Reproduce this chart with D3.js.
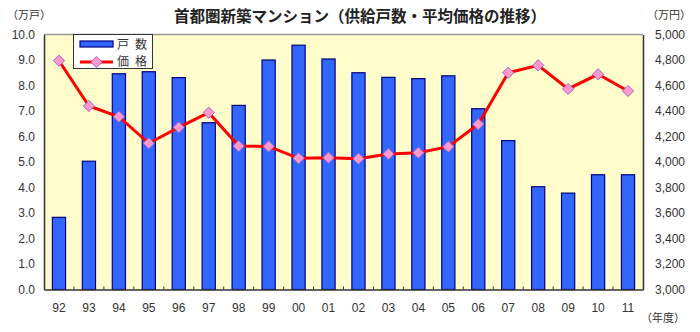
<!DOCTYPE html>
<html><head><meta charset="utf-8">
<script src="https://cdn.jsdelivr.net/npm/d3@7"></script>
<style>body{margin:0;background:#fff}svg{display:block}text{font-family:"Noto Sans CJK JP","Noto Sans",sans-serif}</style>
</head><body><svg id="c" width="700" height="332"></svg>
<script>
const years = ["92","93","94","95","96","97","98","99","00","01","02","03","04","05","06","07","08","09","10","11"];
// 供給戸数（万戸）
const units = [2.83,5.03,8.46,8.54,8.31,6.54,7.22,9.00,9.58,9.04,8.50,8.32,8.27,8.38,7.09,5.84,4.03,3.78,4.50,4.50];
// 平均価格（万円）
const prices = [4794,4439,4355,4147,4272,4387,4125,4122,4029,4034,4026,4063,4073,4120,4296,4700,4758,4573,4688,4557];
const leftTicks = [0,1,2,3,4,5,6,7,8,9,10];
const rightTicks = [3000,3200,3400,3600,3800,4000,4200,4400,4600,4800,5000];

const svg = d3.select("#c");
const L = 44, R = 643, T = 34.5, B = 289.5;

const x = d3.scaleBand().domain(years).range([L, R]).paddingInner(0.56).paddingOuter(0.28);
const xc = d3.scaleBand().domain(years).range([L, R]);
const yL = d3.scaleLinear().domain([0, 10]).range([B, T]);
const yR = d3.scaleLinear().domain([3000, 5000]).range([B, T]);

// plot background
svg.append("rect").attr("x", L).attr("y", T).attr("width", R - L).attr("height", B - T).attr("fill", "#FFFDCC");
svg.append("line").attr("x1", L).attr("x2", R).attr("y1", T).attr("y2", T).attr("stroke", "#999").attr("stroke-width", 1.5);

// bars
svg.append("g").selectAll("rect").data(units).join("rect")
  .attr("x", (d, i) => x(years[i]))
  .attr("y", d => yL(d))
  .attr("width", x.bandwidth())
  .attr("height", d => B - yL(d))
  .attr("fill", "#3366FF").attr("stroke", "#000080").attr("stroke-width", 1.2);

// axes
const gl = svg.append("g").attr("transform", `translate(${L},0)`)
  .call(d3.axisLeft(yL).tickValues(leftTicks).tickFormat(d3.format(".1f")).tickSize(0).tickPadding(9));
const gr = svg.append("g").attr("transform", `translate(${R},0)`)
  .call(d3.axisRight(yR).tickValues(rightTicks).tickFormat(d3.format(",")).tickSize(0).tickPadding(12));
const gb = svg.append("g").attr("transform", `translate(0,${B})`)
  .call(d3.axisBottom(xc).tickSize(0).tickPadding(14));
[gl, gr, gb].forEach(g => {
  g.select(".domain").attr("stroke", "#333").attr("stroke-width", 1.5);
  g.selectAll("text").attr("fill", "#333").attr("font-size", 12).style("font-family", "'Liberation Sans',Arial,sans-serif");
});

// category separators on the baseline
svg.append("g").selectAll("line").data(years.slice(1)).join("line")
  .attr("x1", d => xc(d)).attr("x2", d => xc(d))
  .attr("y1", B).attr("y2", B - 3).attr("stroke", "#333");

// price line
const line = d3.line().x((d, i) => xc(years[i]) + xc.bandwidth() / 2).y(d => yR(d));
svg.append("path").datum(prices).attr("d", line).attr("fill", "none").attr("stroke", "#FF0000").attr("stroke-width", 3);
const diamond = d3.symbol().type(d3.symbolDiamond2).size(80);
svg.append("g").selectAll("path").data(prices).join("path")
  .attr("transform", (d, i) => `translate(${xc(years[i]) + xc.bandwidth() / 2},${yR(d)})`)
  .attr("d", diamond).attr("fill", "#FF99CC").attr("stroke", "#9966CC").attr("stroke-width", 1);

// legend
const lg = svg.append("g");
lg.append("rect").attr("x", 73.5).attr("y", 34.5).attr("width", 79).attr("height", 34).attr("fill", "#fff").attr("stroke", "#333");
lg.append("rect").attr("x", 80).attr("y", 41).attr("width", 33).attr("height", 6).attr("fill", "#3366FF").attr("stroke", "#000080").attr("stroke-width", 1.2);
lg.append("text").attr("x", 117).attr("y", 48.5).attr("font-size", 12).attr("letter-spacing", 6).attr("fill", "#333").text("戸数");
lg.append("line").attr("x1", 80).attr("x2", 113).attr("y1", 62).attr("y2", 62).attr("stroke", "#FF0000").attr("stroke-width", 3);
lg.append("path").attr("transform", "translate(96.5,62)").attr("d", diamond).attr("fill", "#FF99CC").attr("stroke", "#9966CC");
lg.append("text").attr("x", 117).attr("y", 66).attr("font-size", 12).attr("letter-spacing", 6).attr("fill", "#333").text("価格");

// titles and units
svg.append("text").attr("x", 360).attr("y", 22).attr("text-anchor", "middle").attr("font-size", 15.5).attr("font-weight", "bold").attr("fill", "#222")
  .text("首都圏新築マンション（供給戸数・平均価格の推移）");
svg.append("text").attr("x", 7).attr("y", 19).attr("font-size", 11).attr("fill", "#333").text("（万戸）");
svg.append("text").attr("x", 647).attr("y", 19).attr("font-size", 11).attr("fill", "#333").text("（万円）");
svg.append("text").attr("x", 641).attr("y", 322).attr("font-size", 11).attr("fill", "#333").text("（年度）");
</script></body></html>
